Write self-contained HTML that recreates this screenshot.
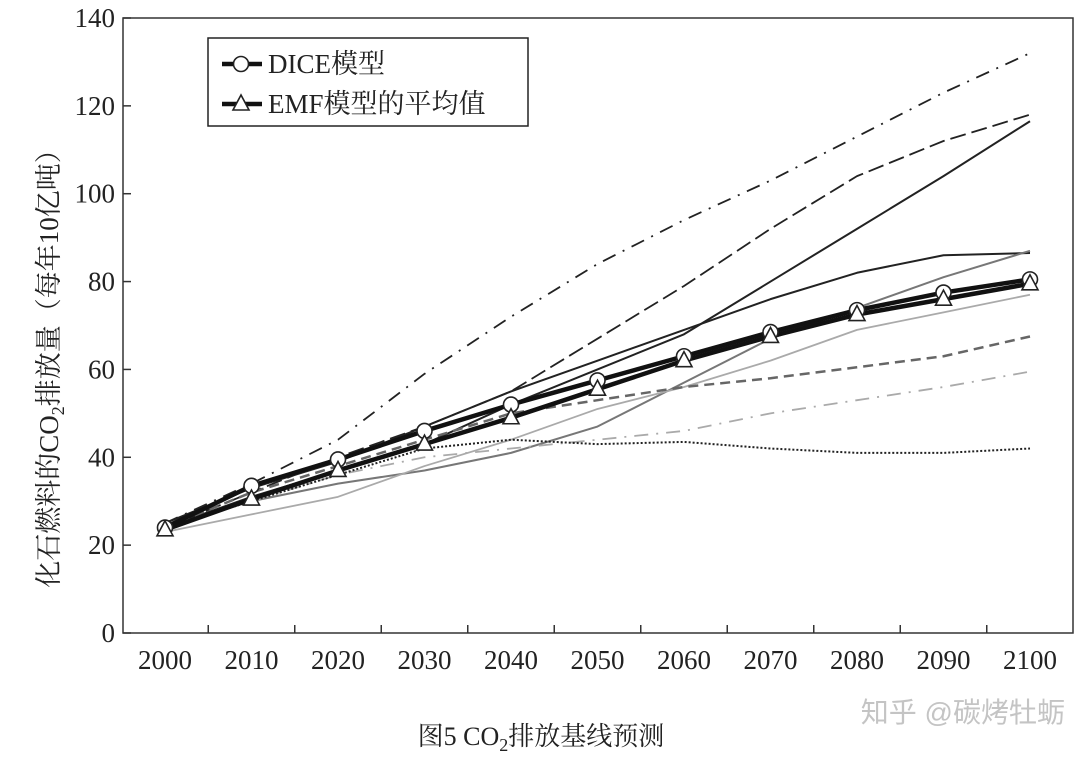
<!DOCTYPE html>
<html><head><meta charset="utf-8"><style>
body{margin:0;background:#fff;width:1092px;height:758px;overflow:hidden}
svg text{font-family:"Liberation Serif","Noto Serif CJK SC",serif;fill:#222}
</style></head><body>
<svg id="c" width="1092" height="758">
<g id="axes"></g><g id="series"></g>
</svg>
<script>
const years=[2000,2010,2020,2030,2040,2050,2060,2070,2080,2090,2100];
const yTicks=[0,20,40,60,80,100,120,140];
const dice=[24,33.5,39.5,46,52,57.5,63,68.5,73.5,77.5,80.5];
const emfMean=[23.5,30.5,37,43,49,55.5,62,67.5,72.5,76,79.5];
const mDashDot=[25,34,44,59,72,84,94,103,113,123,132];
const mLongDash=[24,32,40,47,55,67,79,92,104,112,118];
const mSteep=[24,31,37,43,52,60,68,80,92,104,116.5];
const mFlat=[25,33,39,47,55,62,69,76,82,86,86.5];
const mGray=[24,30,34,37,41,47,57,67,74,81,87];
const mLight=[23,27,31,38,44,51,56,62,69,73,77];
const mGrayDash=[24,32,38,44,50,53,56,58,60.5,63,67.5];
const mLightDashDot=[24,30,36,40,42,44,46,50,53,56,59.5];
const mDotted=[24,30,36,42,44,43,43.5,42,41,41,42];

const NS="http://www.w3.org/2000/svg";
const X0=123,X1=1073,Y0=633,Y1=18;
const xs=i=>165+i*86.5;
const ys=v=>Y0-(v/140)*(Y0-Y1);
function mk(t,a,p){const e=document.createElementNS(NS,t);for(const k in a)e.setAttribute(k,a[k]);p.appendChild(e);return e;}
const ax=document.getElementById('axes'),se=document.getElementById('series');
const frame=mk('rect',{x:X0,y:Y1,width:X1-X0,height:Y0-Y1,fill:'none',stroke:'#333','stroke-width':1.5},ax);


yTicks.forEach(v=>{
  const l=mk('line',{x1:X0,x2:X0+8,y1:ys(v),y2:ys(v),stroke:'#333','stroke-width':1.5},ax);
  
  
  const t=mk('text',{x:X0-8,y:ys(v)+9,'text-anchor':'end','font-size':27},ax);t.textContent=v;
  
  
});
years.forEach((y,i)=>{
  if(i>0){const l=mk('line',{x1:xs(i)-43.25,x2:xs(i)-43.25,y1:Y0,y2:Y0-8,stroke:'#333','stroke-width':1.5},ax);
  
  }
  const t=mk('text',{x:xs(i),y:669,'text-anchor':'middle','font-size':27},ax);t.textContent=y;
  
  
});
function line(d,st,w,dash,name){
  const p=mk('polyline',{points:d.map((v,i)=>xs(i)+','+ys(v)).join(' '),fill:'none',stroke:st,'stroke-width':w,'stroke-dasharray':dash||'none','stroke-linejoin':'round'},se);
  
  
}
line(mDashDot,'#222',1.8,'14 8 2 8','model-dash-dot');
line(mLongDash,'#222',1.8,'16 6','model-long-dash');
line(mSteep,'#222',2,'','model-steep');
line(mFlat,'#222',2,'','model-flat');
line(mGray,'#777',2,'','model-gray');
line(mLight,'#aaa',1.8,'','model-light-gray');
line(mGrayDash,'#666',2.5,'10 6','model-gray-dash');
line(mLightDashDot,'#aaa',1.8,'14 8 2 8','model-light-dash-dot');
line(mDotted,'#222',2,'2 2','model-dotted');
line(dice,'#111',4.5,'','dice-line');
line(emfMean,'#111',4.5,'','emf-mean-line');
dice.forEach((v,i)=>{const c=mk('circle',{cx:xs(i),cy:ys(v),r:7.5,fill:'#fff',stroke:'#222','stroke-width':1.6},se);
  
  });
emfMean.forEach((v,i)=>{const x=xs(i),y=ys(v);const t=mk('polygon',{points:`${x},${y-9} ${x-8},${y+6} ${x+8},${y+6}`,fill:'#fff',stroke:'#222','stroke-width':1.6},se);
  
  });
</script>
<svg style="position:absolute;left:0;top:0" width="1092" height="758">
<g>
<rect x="208" y="38" width="320" height="88" fill="#fff" stroke="#222" stroke-width="1.5"/>
<line x1="222" y1="64" x2="262" y2="64" stroke="#111" stroke-width="4.5"/>
<circle cx="241" cy="64" r="7.5" fill="#fff" stroke="#222" stroke-width="1.6"/>
<text x="268" y="73" font-size="27">DICE模型</text>
<line x1="222" y1="104" x2="262" y2="104" stroke="#111" stroke-width="4.5"/>
<polygon points="241,95 233,110 249,110" fill="#fff" stroke="#222" stroke-width="1.6"/>
<text x="268" y="113" font-size="27">EMF模型的平均值</text>
</g>
<text transform="translate(58,362) rotate(-90)" text-anchor="middle" font-size="27">化石燃料的CO<tspan font-size="18" dy="6">2</tspan><tspan dy="-6">排放量（每年10亿吨）</tspan></text>
<text x="541" y="745" text-anchor="middle" font-size="26">图5 CO<tspan font-size="18" dy="6">2</tspan><tspan dy="-6">排放基线预测</tspan></text>
<text x="1065" y="722" text-anchor="end" font-size="28" style="fill:#c4c4c4;font-family:'Liberation Sans','Noto Sans CJK SC',sans-serif">知乎 @碳烤牡蛎</text>
</svg>
</body></html>
